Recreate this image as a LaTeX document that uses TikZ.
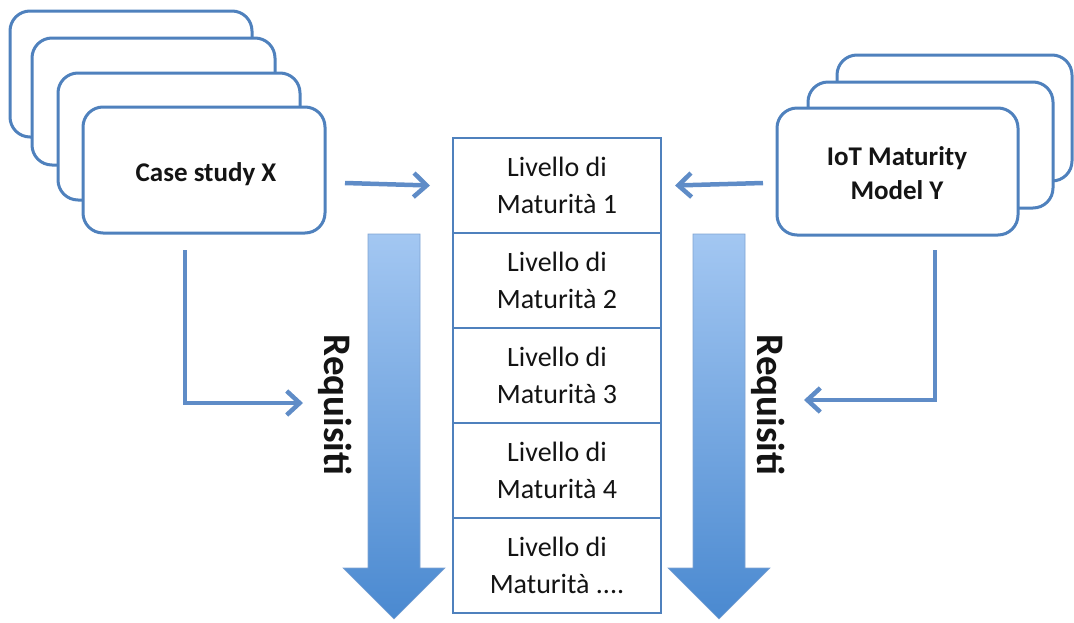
\documentclass[tikz,border=0pt]{standalone}
\usepackage{fontspec}
\setmainfont{Carlito}
\usetikzlibrary{arrows.meta}
\definecolor{edge}{RGB}{79,129,189}
\definecolor{arrowblue}{RGB}{95,140,199}
\definecolor{shadetop}{RGB}{163,199,242}
\definecolor{shadebot}{RGB}{74,137,208}
\definecolor{txt}{RGB}{20,20,20}
\tikzset{
  card/.style={draw=edge, line width=3pt, fill=white, rounded corners=20pt},
  cell/.style={draw=edge, line width=2.4pt, fill=white, minimum width=208pt, minimum height=95pt,
    align=center, font=\fontsize{28}{37}\selectfont, text=txt},
  cardtext/.style={align=center, font=\fontsize{27}{34}\selectfont\bfseries, text=txt},
  link/.style={draw=arrowblue, line width=4.5pt, -{Straight Barb[length=13pt,width=24pt,line width=4.5pt]}},
  bigarrow/.style={top color=shadetop, bottom color=shadebot, draw=arrowblue!80, line width=0.6pt},
  reqtext/.style={rotate=-90, font=\fontsize{39}{42}\selectfont\bfseries, text=txt}
}
\begin{document}
\begin{tikzpicture}[x=1pt,y=-1pt]
\useasboundingbox (0,0) rectangle (1074,622);

% stacked case-study cards
\draw[card] (10,11) rectangle (252,137);
\draw[card] (32,38) rectangle (275,165);
\draw[card] (58,73) rectangle (300,200);
\draw[card] (83,107) rectangle (325,233);
\node[cardtext] (cs) at (206,174) {Case study X};

% stacked maturity-model cards
\draw[card] (837,55) rectangle (1072,181);
\draw[card] (808,82) rectangle (1053,208);
\draw[card] (777,108) rectangle (1018,235);
\node[cardtext] (mm) at (897,173) {IoT Maturity\\Model Y};

% maturity levels
\node[cell] (l1) at (557,185.5) {Livello di\\Maturità 1};
\node[cell] (l2) at (557,280.5) {Livello di\\Maturità 2};
\node[cell] (l3) at (557,375.5) {Livello di\\Maturità 3};
\node[cell] (l4) at (557,470.5) {Livello di\\Maturità 4};
\node[cell] (l5) at (557,565.5) {Livello di\\Maturità ....};

% connectors
\coordinate (csout) at (345,183);
\coordinate (mmout) at (763,183);
\draw[link] (csout) -- (l1.west -| 430,0);
\draw[link] (mmout) -- (l1.east -| 675,0);
\coordinate (csdown) at (185,250);
\coordinate (csin) at (303,403);
\draw[link] (csdown) |- (csin);
\coordinate (mmdown) at (935,250);
\coordinate (mmin) at (804,400);
\draw[link] (mmdown) |- (mmin);

% requirement arrows
\shade[bigarrow] (368,234) -- (420,234) -- (420,568) -- (445,568) -- (394,619) -- (343,568) -- (368,568) -- cycle;
\shade[bigarrow] (693,234) -- (745,234) -- (745,568) -- (770,568) -- (719,619) -- (668,568) -- (693,568) -- cycle;
\node[reqtext] (rq1) at (335,405) {Requisiti};
\node[reqtext] (rq2) at (768,405) {Requisiti};
\end{tikzpicture}
\end{document}
